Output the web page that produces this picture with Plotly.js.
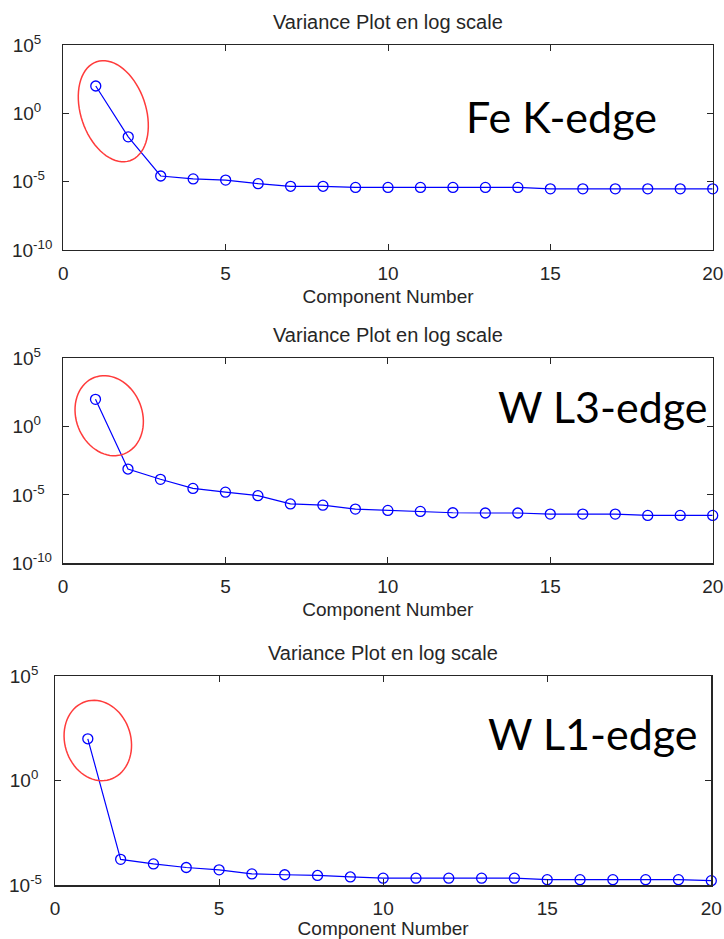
<!DOCTYPE html>
<html>
<head>
<meta charset="utf-8">
<script src="https://cdn.plot.ly/plotly-3.0.1.min.js"></script>
<style>html,body{margin:0;padding:0;background:#fff;}#chart{width:724px;height:939px;}</style>
</head>
<body>
<div id="chart"></div>
<script>
// ---- data ----
var componentNumber = [1,2,3,4,5,6,7,8,9,10,11,12,13,14,15,16,17,18,19,20];
var feKEdge = [100, 1.9e-2, 2.6e-5, 1.6e-5, 1.3e-5, 7.1e-6, 4.6e-6, 4.6e-6, 3.8e-6, 3.8e-6,
               3.8e-6, 3.8e-6, 3.8e-6, 3.8e-6, 3.0e-6, 3.0e-6, 3.0e-6, 3.0e-6, 3.0e-6, 3.0e-6];
var wL3Edge = [100, 7.9e-4, 1.4e-4, 3.0e-5, 1.6e-5, 8.9e-6, 2.2e-6, 1.8e-6, 9.3e-7, 7.4e-7,
               6.3e-7, 5.0e-7, 4.8e-7, 4.8e-7, 4.0e-7, 4.0e-7, 4.0e-7, 3.2e-7, 3.2e-7, 3.2e-7];
var wL1Edge = [100, 1.74e-4, 1.05e-4, 7.1e-5, 5.5e-5, 3.5e-5, 3.2e-5, 2.95e-5, 2.5e-5, 2.2e-5,
               2.2e-5, 2.2e-5, 2.2e-5, 2.2e-5, 1.86e-5, 1.86e-5, 1.86e-5, 1.86e-5, 1.86e-5, 1.66e-5];
var panelLabels = ["Fe K-edge", "W L3-edge", "W L1-edge"];
var panelTitle = "Variance Plot en log scale";
var xAxisTitle = "Component Number";
var xTickVals = [0, 5, 10, 15, 20];
var yTickValsWide = [1e-10, 1e-5, 1, 1e5];
var yTickExpWide = ["-10", "-5", "0", "5"];
var yTickValsNarrow = [1e-5, 1, 1e5];
var yTickExpNarrow = ["-5", "0", "5"];

// ---- styling / geometry (pixels) ----
var W = 724, H = 939;
var boxes = [
  {l: 63.3, r: 712.7, t: 45, b: 250, yr: [-10, 5], tv: yTickValsWide, ex: yTickExpWide, so: 6},
  {l: 63.0, r: 712.7, t: 358.3, b: 563.3, yr: [-10, 5], tv: yTickValsWide, ex: yTickExpWide, so: 6},
  {l: 55.0, r: 711.3, t: 676, b: 885.3, yr: [-5, 5], tv: yTickValsNarrow, ex: yTickExpNarrow, so: 8}
];
var series = [feKEdge, wL3Edge, wL1Edge];
var labelPos = [{x: 464, y: 116}, {x: 496, y: 406}, {x: 486, y: 733}];
var ellipses = [
  {cx: 113.3, cy: 111.2, a: 52.2, b: 32.5, th: 18.65},
  {cx: 109.2, cy: 415.7, a: 41, b: 33, th: 21.5},
  {cx: 97.8, cy: 740.5, a: 40.8, b: 33, th: 17.1}
];

var axisColor = '#262626';
var textColor = '#262626';
var fontFam = '"Liberation Sans", Arial, sans-serif';

function px(x) { return x / W; }
function py(y) { return 1 - y / H; }

// approximate em-width of an exponent string (digits 0.556, minus 0.333)
function expWidth(s) {
  var w = 0;
  for (var k = 0; k < s.length; k++) w += (s.charAt(k) === '-' ? 0.333 : 0.556);
  return w;
}
// "10^e" label; trailing no-break spaces keep the "10" parts left-aligned as in the original
function powerLabel(exp, widest) {
  var n = Math.round((expWidth(widest) - expWidth(exp)) / 0.278);
  var pad = '';
  for (var k = 0; k < n; k++) pad += '\u00A0';
  return '10<sup>' + exp + pad + '</sup>';
}

function ellipsePath(e) {
  var th = e.th * Math.PI / 180, pts = [];
  for (var i = 0; i <= 72; i++) {
    var t = i / 72 * 2 * Math.PI;
    var x = e.cx + e.a * Math.cos(t) * (-Math.sin(th)) + e.b * Math.sin(t) * Math.cos(th);
    var y = e.cy + e.a * Math.cos(t) * (-Math.cos(th)) + e.b * Math.sin(t) * (-Math.sin(th));
    pts.push(px(x).toFixed(5) + ',' + py(y).toFixed(5));
  }
  return 'M' + pts.join(' L') + ' Z';
}

var data = [], layout = {
  width: W, height: H,
  margin: {l: 0, r: 0, t: 0, b: 0},
  paper_bgcolor: '#fff', plot_bgcolor: '#fff',
  showlegend: false,
  font: {family: fontFam, color: textColor, size: 19},
  annotations: [], shapes: []
};

boxes.forEach(function (bx, i) {
  var sfx = i === 0 ? '' : String(i + 1);
  var widest = bx.ex[0];
  data.push({
    x: componentNumber, y: series[i],
    xaxis: 'x' + sfx, yaxis: 'y' + sfx,
    type: 'scatter', mode: 'lines+markers',
    line: {color: '#0000ff', width: 1.2},
    marker: {symbol: 'circle-open', size: 10, color: '#0000ff', line: {width: 1.3, color: '#0000ff'}},
    cliponaxis: false, hoverinfo: 'x+y'
  });
  layout['xaxis' + sfx] = {
    domain: [px(bx.l), px(bx.r)], anchor: 'y' + sfx,
    range: [0, 20], tickvals: xTickVals, ticks: 'inside', ticklen: 6, tickwidth: 1,
    tickcolor: axisColor, showline: true, linecolor: axisColor, linewidth: 1.2, mirror: 'ticks',
    showgrid: false, zeroline: false, ticklabelstandoff: 6, ticklabeloverflow: 'allow',
    tickfont: {family: fontFam, size: 19, color: textColor},
    title: {text: xAxisTitle, font: {family: fontFam, size: 19, color: textColor}, standoff: 6}
  };
  layout['yaxis' + sfx] = {
    domain: [py(bx.b), py(bx.t)], anchor: 'x' + sfx, type: 'log',
    range: bx.yr, tickvals: bx.tv,
    ticktext: bx.ex.map(function (e) { return powerLabel(e, widest); }),
    ticks: 'inside', ticklen: 6, tickwidth: 1,
    tickcolor: axisColor, showline: true, linecolor: axisColor, linewidth: 1.2, mirror: 'ticks',
    showgrid: false, zeroline: false, ticklabelstandoff: bx.so, ticklabeloverflow: 'allow',
    tickfont: {family: fontFam, size: 19, color: textColor}
  };
  layout.annotations.push({
    xref: 'paper', yref: 'paper', x: px((bx.l + bx.r) / 2), y: py(bx.t - 23),
    xanchor: 'center', yanchor: 'middle', showarrow: false, text: panelTitle,
    font: {family: fontFam, size: 20, color: textColor}
  });
  layout.annotations.push({
    xref: 'paper', yref: 'paper', x: px(labelPos[i].x), y: py(labelPos[i].y),
    xanchor: 'left', yanchor: 'middle', showarrow: false, text: panelLabels[i],
    font: {family: 'Lato, "Open Sans", sans-serif', size: 43, color: '#000'}
  });
  layout.shapes.push({
    type: 'path', xref: 'paper', yref: 'paper', path: ellipsePath(ellipses[i]),
    line: {color: '#ff3b3b', width: 1.5}, fillcolor: 'rgba(0,0,0,0)'
  });
});

Plotly.newPlot('chart', data, layout, {displayModeBar: false, staticPlot: true});
</script>
</body>
</html>
